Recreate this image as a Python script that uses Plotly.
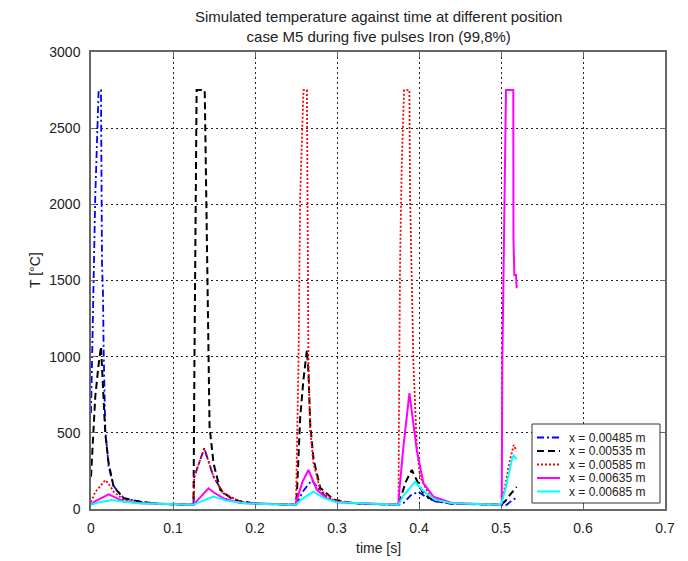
import plotly.graph_objects as go

# ---- data (time in s, temperature in °C) ----
labels = ["x = 0.00485 m", "x = 0.00535 m", "x = 0.00585 m", "x = 0.00635 m", "x = 0.00685 m"]

t_blue = [0, 0.0032, 0.0052, 0.0093, 0.0122, 0.0134, 0.0146, 0.0154, 0.0174, 0.0215, 0.0276, 0.0398, 0.060, 0.080, 0.100, 0.125,
          0.1259, 0.1381, 0.1494, 0.1616, 0.182, 0.200, 0.250,
          0.253, 0.2591, 0.2693, 0.2795, 0.2876, 0.300, 0.330, 0.375,
          0.3812, 0.390, 0.3993, 0.408, 0.420, 0.440, 0.500,
          0.505, 0.512, 0.519]
T_blue = [630, 1400, 2050, 2750, 2750, 1615, 1420, 1050, 520, 280, 150, 72, 48, 35, 30, 28,
          210, 398, 212, 103, 48, 35, 28,
          60, 120, 190, 120, 75, 50, 33, 28,
          40, 90, 114, 80, 50, 35, 28,
          20, 50, 75]

t_black = [0, 0.0052, 0.0093, 0.0122, 0.0174, 0.0215, 0.0276, 0.0398, 0.060, 0.080, 0.100, 0.125,
           0.1262, 0.1275, 0.1288, 0.1387, 0.1400, 0.1421, 0.1446, 0.1494, 0.1576, 0.1738, 0.200, 0.250,
           0.2511, 0.2551, 0.2591, 0.2633, 0.2652, 0.2673, 0.2713, 0.2795, 0.2957, 0.320, 0.375,
           0.378, 0.384, 0.3912, 0.3973, 0.4054, 0.4176, 0.440, 0.500,
           0.505, 0.512, 0.519]
T_black = [212, 737, 950, 1066, 497, 300, 146, 70, 48, 35, 30, 28,
           1000, 2000, 2750, 2750, 2300, 1500, 540, 300, 125, 59, 35, 28,
           100, 600, 850, 1044, 900, 560, 330, 140, 62, 38, 28,
           80, 180, 256, 190, 100, 55, 35, 28,
           50, 100, 145]

t_red = [0, 0.005, 0.0174, 0.0215, 0.0276, 0.040, 0.060, 0.100, 0.125,
         0.1259, 0.1381, 0.1494, 0.1616, 0.182, 0.200, 0.250,
         0.2511, 0.253, 0.2551, 0.2591, 0.2633, 0.2640, 0.2652, 0.2673, 0.2713, 0.2795, 0.2957, 0.320, 0.375,
         0.3757, 0.3769, 0.3790, 0.3818, 0.3883, 0.3891, 0.3912, 0.3932, 0.3973, 0.4013, 0.4135, 0.4339, 0.500,
         0.505, 0.510, 0.5135, 0.5155, 0.519]
T_red = [45, 110, 190, 165, 114, 59, 40, 30, 28,
         212, 398, 212, 103, 48, 35, 28,
         300, 956, 2050, 2750, 2750, 2050, 956, 519, 300, 125, 59, 38, 28,
         737, 1613, 2270, 2750, 2750, 2050, 1503, 956, 409, 212, 81, 37, 28,
         150, 300, 390, 420, 380]

t_magenta = [0, 0.005, 0.0215, 0.0276, 0.040, 0.060, 0.100, 0.125,
             0.127, 0.1433, 0.1494, 0.1616, 0.182, 0.250,
             0.2511, 0.258, 0.2652, 0.2754, 0.2876, 0.300, 0.375,
             0.3757, 0.381, 0.3883, 0.3973, 0.4054, 0.4176, 0.440, 0.500,
             0.5009, 0.5016, 0.5028, 0.5049, 0.5061, 0.5150, 0.5152, 0.5163, 0.5183, 0.5192]
T_magenta = [30, 50, 96, 80, 50, 38, 30, 28,
             40, 136, 110, 70, 40, 28,
             60, 180, 256, 125, 70, 45, 28,
             100, 409, 760, 387, 169, 81, 40, 28,
             37, 956, 1503, 2270, 2750, 2750, 1777, 1536, 1536, 1449]

t_cyan = [0, 0.010, 0.0256, 0.040, 0.060, 0.100, 0.125,
          0.130, 0.1494, 0.165, 0.190, 0.250,
          0.256, 0.2713, 0.285, 0.300, 0.375,
          0.380, 0.3952, 0.405, 0.420, 0.440, 0.500,
          0.505, 0.510, 0.5135, 0.5155, 0.519]
T_cyan = [28, 45, 59, 48, 38, 30, 28,
          40, 81, 55, 36, 28,
          60, 114, 70, 45, 28,
          80, 179, 120, 60, 38, 28,
          120, 250, 330, 350, 325]

x_ticks = [0, 0.1, 0.2, 0.3, 0.4, 0.5, 0.6, 0.7]
x_tick_text = ["0", "0.1", "0.2", "0.3", "0.4", "0.5", "0.6", "0.7"]
y_ticks = [0, 500, 1000, 1500, 2000, 2500, 3000]

colors = ["#0000ff", "#000000", "#ff0000", "#ff00ff", "#00ffff"]
dashes = ["7px,3px,2px,3px", "7px,4px", "2px,2px", "solid", "solid"]
widths = [1.8, 2, 1.8, 2, 2]
times = [t_blue, t_black, t_red, t_magenta, t_cyan]
temps = [T_blue, T_black, T_red, T_magenta, T_cyan]

FONT = "Liberation Sans, Arial, sans-serif"
TXT = "#222222"

# plot-area geometry in pixels (for paper-coordinate conversions)
L, R, TOP, BOT = 91, 665, 52, 509
W, H = R - L, BOT - TOP
px = lambda x: (x - L) / W
py = lambda y: (BOT - y) / H

fig = go.Figure()
for t, T, col, dash, w, name in zip(times, temps, colors, dashes, widths, labels):
    fig.add_trace(go.Scatter(x=t, y=T, mode="lines", name=name, showlegend=False,
                             line=dict(color=col, dash=dash, width=w)))

axis_common = dict(
    showline=True, linecolor="#666666", linewidth=1.5, mirror="allticks",
    ticks="inside", ticklen=5, tickcolor="#666666", tickwidth=1,
    showgrid=True, gridcolor="#222222", griddash="2px,3px", gridwidth=1,
    zeroline=False, tickfont=dict(family=FONT, size=14, color=TXT),
)
fig.update_xaxes(range=[0, 0.7], tickvals=x_ticks, ticktext=x_tick_text, ticklabelstandoff=5, **axis_common)
fig.update_yaxes(range=[0, 3000], tickvals=y_ticks, ticklabelstandoff=6, **axis_common)

# legend box drawn in paper coordinates (MATLAB-style compact legend)
shapes = [dict(type="rect", xref="paper", yref="paper", x0=px(532), x1=px(660), y0=py(503), y1=py(424),
               line=dict(color="#333333", width=1), fillcolor="white", layer="above")]
annotations = []
for i, (name, col, dash, w) in enumerate(zip(labels, colors, dashes, widths)):
    yy = 437.5 + 13.5 * i
    shapes.append(dict(type="line", xref="paper", yref="paper", x0=px(537), x1=px(560), y0=py(yy), y1=py(yy),
                       line=dict(color=col, dash=dash, width=w), layer="above"))
    annotations.append(dict(text=name, x=px(567), y=py(yy), xref="paper", yref="paper", showarrow=False,
                            xanchor="left", yanchor="middle", font=dict(family=FONT, size=12, color=TXT)))

annotations += [
    dict(text="Simulated temperature against time at different position<br>case M5 during five pulses Iron (99,8%)",
         x=0.5, y=py(27), xref="paper", yref="paper", showarrow=False, xanchor="center", yanchor="middle",
         font=dict(family=FONT, size=15, color=TXT)),
    dict(text="time [s]", x=0.5, xref="paper", y=py(548), yref="paper",
         showarrow=False, xanchor="center", yanchor="middle", font=dict(family=FONT, size=14, color=TXT)),
    dict(text="T [°C]", x=px(35), xref="paper", y=py(270), yref="paper",
         showarrow=False, textangle=-90, xanchor="center", yanchor="middle",
         font=dict(family=FONT, size=14, color=TXT)),
]

fig.update_layout(
    width=688, height=561, autosize=False,
    margin=dict(l=L, r=688 - R, t=TOP, b=561 - BOT),
    paper_bgcolor="white", plot_bgcolor="white",
    font=dict(family=FONT, size=13, color=TXT),
    showlegend=False,
    shapes=shapes,
    annotations=annotations,
)

fig.write_html("out.html")
